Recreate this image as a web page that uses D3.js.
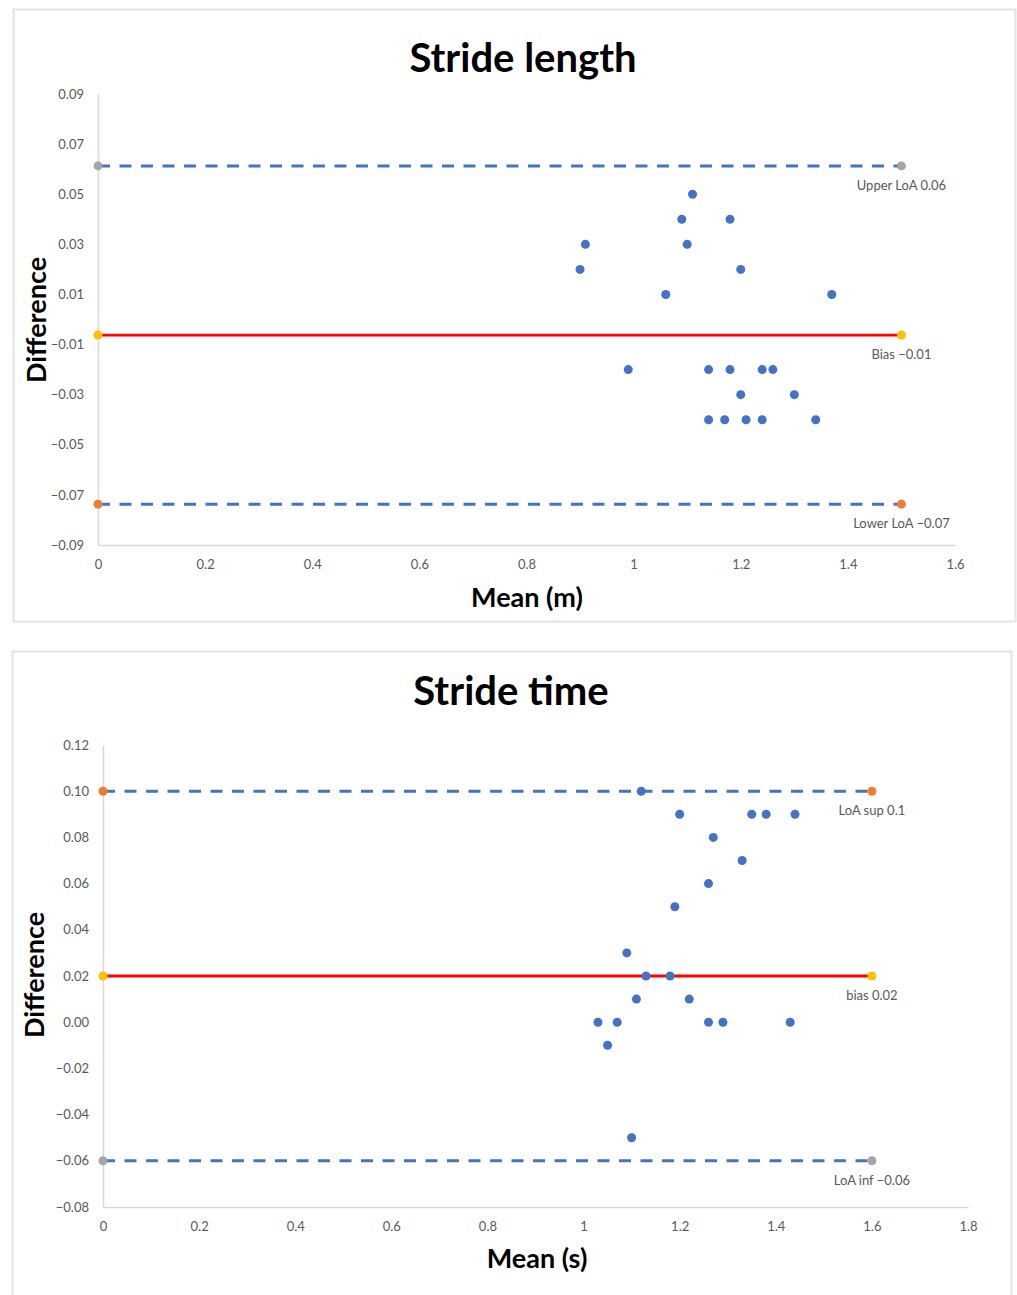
<!DOCTYPE html>
<html>
<head>
<meta charset="utf-8">
<script src="https://cdn.jsdelivr.net/npm/d3@7"></script>
<style>
    body { margin: 0; background: #ffffff; }
    text { font-family: Lato, "Open Sans", sans-serif; }
</style>
</head>
<body>
<svg id="chart"></svg>
<script>
/*--------------------------------------------------------------------------------
----- BLAND-ALTMAN PLOTS (stride length and stride time)
--------------------------------------------------------------------------------*/

// Stride length: mean of both methods (m) and their difference
const length_mean = [1.11, 1.09, 1.18, 0.91, 1.10, 0.90, 1.20, 1.06, 1.37, 0.99, 1.14,
                     1.18, 1.24, 1.26, 1.20, 1.30, 1.14, 1.17, 1.21, 1.24, 1.34];
const length_diff = [0.05, 0.04, 0.04, 0.03, 0.03, 0.02, 0.02, 0.01, 0.01, -0.02, -0.02,
                     -0.02, -0.02, -0.02, -0.03, -0.03, -0.04, -0.04, -0.04, -0.04, -0.04];
const length_limits = [0.0613, -0.0062, -0.0737];
const length_limit_labels = ["Upper LoA 0.06", "Bias \u22120.01", "Lower LoA \u22120.07"];
const length_x_ticks = [0, 0.2, 0.4, 0.6, 0.8, 1, 1.2, 1.4, 1.6];
const length_y_ticks = [0.09, 0.07, 0.05, 0.03, 0.01, -0.01, -0.03, -0.05, -0.07, -0.09];

// Stride time: mean of both methods (s) and their difference
const time_mean = [1.12, 1.20, 1.35, 1.38, 1.44, 1.27, 1.33, 1.26, 1.19, 1.09, 1.13,
                   1.18, 1.11, 1.22, 1.03, 1.07, 1.26, 1.29, 1.43, 1.05, 1.10];
const time_diff = [0.10, 0.09, 0.09, 0.09, 0.09, 0.08, 0.07, 0.06, 0.05, 0.03, 0.02,
                   0.02, 0.01, 0.01, 0.00, 0.00, 0.00, 0.00, 0.00, -0.01, -0.05];
const time_limits = [0.10, 0.02, -0.06];
const time_limit_labels = ["LoA sup 0.1", "bias 0.02", "LoA inf \u22120.06"];
const time_x_ticks = [0, 0.2, 0.4, 0.6, 0.8, 1, 1.2, 1.4, 1.6, 1.8];
const time_y_ticks = [0.12, 0.10, 0.08, 0.06, 0.04, 0.02, 0.00, -0.02, -0.04, -0.06, -0.08];

// Colours of the Excel-like palette
const dot_color = "#4472c4";
const grey_color = "#a5a5a5";
const yellow_color = "#ffc000";
const orange_color = "#ed7d31";

const svg = d3.select("#chart")
    .attr("width", 1017)
    .attr("height", 1295);

// Function to draw one complete panel
function draw_panel(cfg) {
    // Panel frame
    svg.append("rect")
        .attr("x", cfg.box[0]).attr("y", cfg.box[1])
        .attr("width", cfg.box[2]).attr("height", cfg.box[3])
        .attr("fill", "#ffffff")
        .attr("stroke", "#e3e3e3")
        .attr("stroke-width", 2);

    const x_scale = d3.scaleLinear()
        .domain(d3.extent(cfg.x_ticks))
        .range(cfg.x_range);
    const y_scale = d3.scaleLinear()
        .domain(d3.extent(cfg.y_ticks))
        .range(cfg.y_range);

    // Y-axis
    const y_axis = svg.append("g")
        .attr("transform", `translate(${cfg.x_range[0]},0)`)
        .call(d3.axisLeft(y_scale).tickValues(cfg.y_ticks).tickFormat(d3.format(".2f"))
            .tickSize(0).tickPadding(14));
    // X-axis
    const x_axis = svg.append("g")
        .attr("transform", `translate(0,${cfg.y_range[0]})`)
        .call(d3.axisBottom(x_scale).tickValues(cfg.x_ticks).tickFormat(d3.format("~f"))
            .tickSize(0).tickPadding(15));

    [x_axis, y_axis].forEach(ax => {
        ax.select(".domain").attr("stroke", "#d9d9d9").attr("stroke-width", 1.5);
        ax.selectAll("text")
            .attr("fill", "#595959")
            .style("font-size", "13px");
    });

    // Limit lines (upper, bias, lower)
    const end_x = cfg.limit_end;
    cfg.limits.forEach((v, i) => {
        svg.append("line")
            .attr("x1", x_scale(0)).attr("x2", x_scale(end_x))
            .attr("y1", y_scale(v)).attr("y2", y_scale(v))
            .attr("stroke", i === 1 ? "#ff0000" : dot_color)
            .attr("stroke-width", i === 1 ? 2.8 : 3)
            .attr("stroke-dasharray", i === 1 ? null : "12,9.5");

        [0, end_x].forEach(xv => {
            svg.append("circle")
                .attr("cx", x_scale(xv))
                .attr("cy", y_scale(v))
                .attr("r", 4.5)
                .attr("fill", cfg.marker_colors[i]);
        });

        svg.append("text")
            .attr("x", x_scale(end_x))
            .attr("y", y_scale(v) + 24)
            .attr("text-anchor", "middle")
            .attr("fill", "#595959")
            .style("font-size", "13px")
            .text(cfg.limit_labels[i]);
    });

    // Data points
    svg.append("g")
        .selectAll("circle")
        .data(cfg.means)
        .enter()
        .append("circle")
        .attr("cx", d => x_scale(d))
        .attr("cy", (d, i) => y_scale(cfg.diffs[i]))
        .attr("r", 4.5)
        .attr("fill", dot_color);

    // Titles
    svg.append("text")
        .attr("x", cfg.title_pos[0]).attr("y", cfg.title_pos[1])
        .attr("text-anchor", "middle")
        .style("font-size", "40px").style("font-weight", "bold")
        .text(cfg.title);
    svg.append("text")
        .attr("x", cfg.x_title_pos[0]).attr("y", cfg.x_title_pos[1])
        .attr("text-anchor", "middle")
        .style("font-size", "27px").style("font-weight", "bold")
        .text(cfg.x_title);
    svg.append("text")
        .attr("transform", `translate(${cfg.y_title_pos[0]},${cfg.y_title_pos[1]}) rotate(-90)`)
        .attr("text-anchor", "middle")
        .style("font-size", "27px").style("font-weight", "bold")
        .text("Difference");
}

draw_panel({
    box: [13.5, 9.5, 1002, 612],
    x_ticks: length_x_ticks, y_ticks: length_y_ticks,
    x_range: [98, 955], y_range: [545, 94],
    means: length_mean, diffs: length_diff,
    limits: length_limits, limit_labels: length_limit_labels, limit_end: 1.5,
    marker_colors: [grey_color, yellow_color, orange_color],
    title: "Stride length", title_pos: [523, 72],
    x_title: "Mean (m)", x_title_pos: [527, 607],
    y_title_pos: [46, 320]
});

draw_panel({
    box: [12.5, 651.5, 999, 680],
    x_ticks: time_x_ticks, y_ticks: time_y_ticks,
    x_range: [103, 968], y_range: [1207, 745],
    means: time_mean, diffs: time_diff,
    limits: time_limits, limit_labels: time_limit_labels, limit_end: 1.6,
    marker_colors: [orange_color, yellow_color, grey_color],
    title: "Stride time", title_pos: [511, 705],
    x_title: "Mean (s)", x_title_pos: [537, 1268],
    y_title_pos: [44, 975]
});
</script>
</body>
</html>
